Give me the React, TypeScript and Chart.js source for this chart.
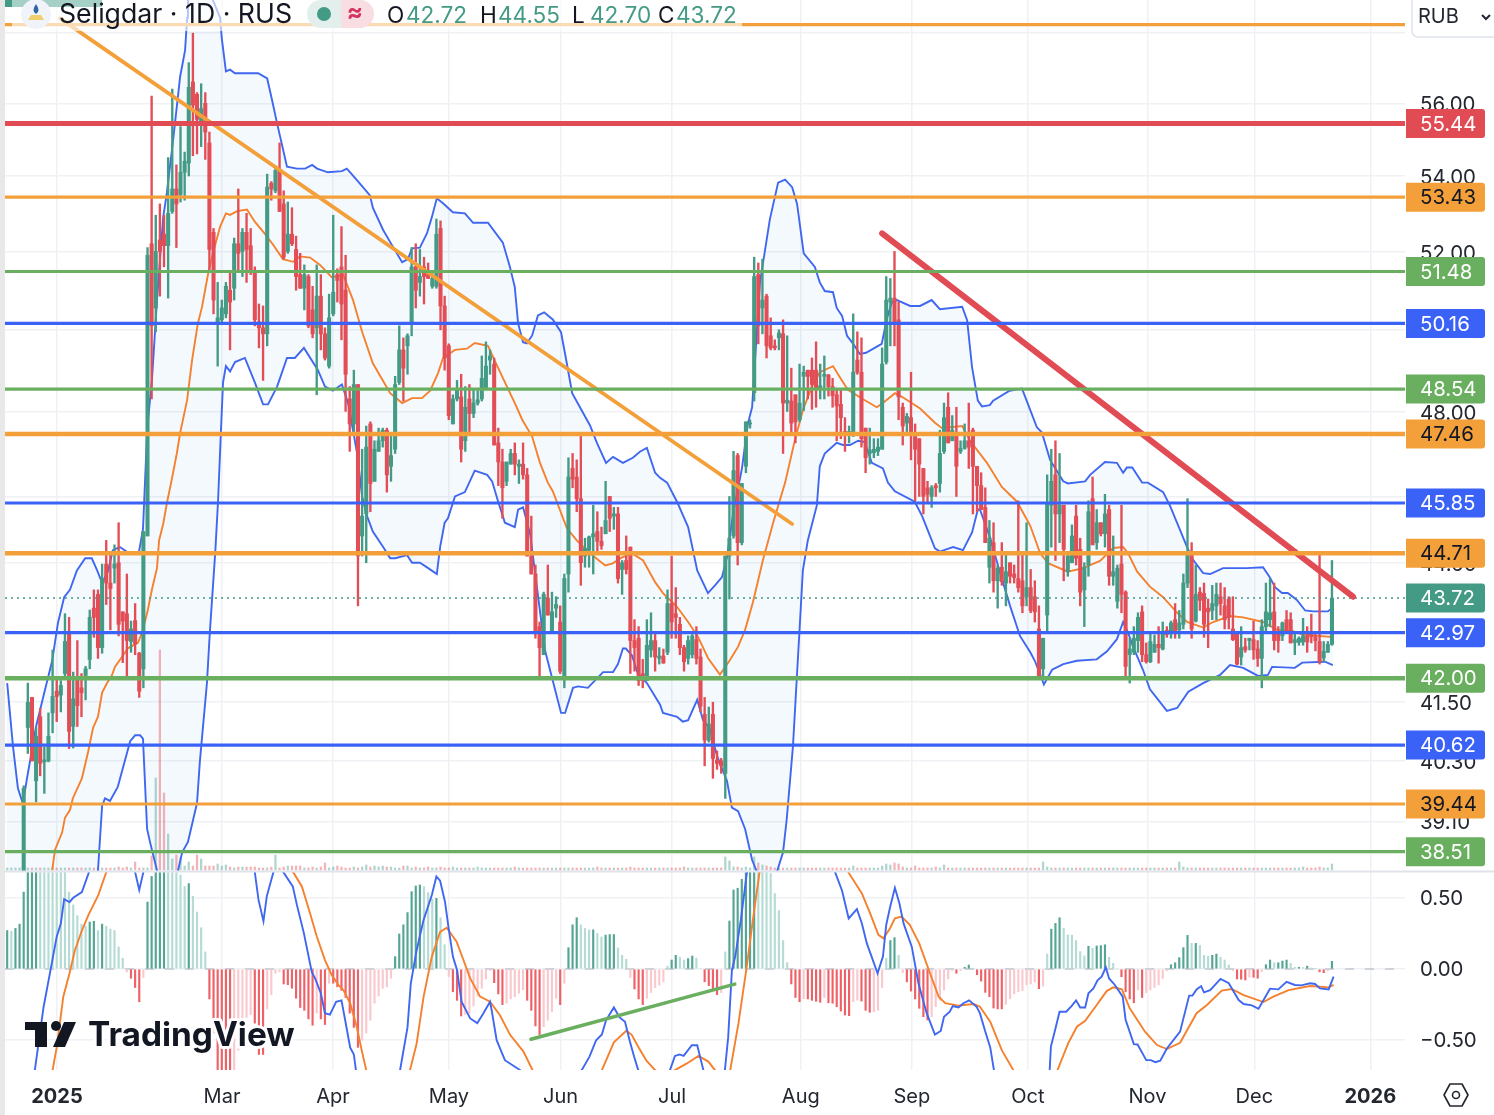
import React, { useEffect, useRef } from 'react';
import { Chart, registerables } from 'chart.js';

Chart.register(...registerables);

const FONT = 'Inter, "Noto Sans", sans-serif';

// daily candles, bar 0 is the first one above the bottom of the pane
const opens = [
  37.5,40.98,41.6,39.9,41.2,40.28,40.3,41.28,41.73,41.65,
  42.1,43.0,41.0,42.0,41.8,42.06,42.4,43.5,43.8,42.65,
  44.47,44.05,44.38,44.5,43.42,43.38,42.78,43.23,42.53,42.2,
  45.1,52.2,50.55,52.3,52.45,52.15,53.05,53.65,53.5,54.1,
  54.35,56.6,56.25,55.5,56.0,54.9,52.5,50.2,50.25,50.4,
  51.0,51.05,52.2,52.0,52.5,52.15,51.45,50.2,50.05,49.9,
  53.8,53.6,54.15,53.25,52.0,52.45,52.05,51.4,51.05,51.35,
  50.5,50.05,50.85,49.9,49.1,50.4,51.4,51.6,51.0,48.3,
  47.7,48.65,45.1,45.6,47.7,46.35,47.05,47.3,47.55,46.7,
  47.1,48.7,49.5,49.6,50.15,51.6,51.2,51.6,51.45,51.1,
  51.1,52.6,50.6,49.6,47.7,48.3,48.35,47.3,48.3,47.95,
  48.2,48.3,48.55,49.25,49.15,47.25,46.8,46.35,46.75,47.0,
  46.7,46.75,46.5,44.65,44.25,43.1,42.5,43.72,43.0,43.5,
  43.2,42.0,44.25,46.65,46.45,45.95,44.65,44.78,45.08,45.2,
  44.98,45.15,46.0,45.55,45.6,44.35,44.55,44.85,42.8,42.85,
  42.1,41.95,42.6,42.8,42.42,42.47,42.55,43.6,43.38,43.15,
  42.65,42.42,42.5,42.82,42.45,41.25,40.72,41.25,40.32,40.3,
  40.05,44.65,45.1,46.95,44.95,46.7,47.7,48.45,51.4,50.55,
  50.85,49.85,49.6,49.8,49.9,48.2,48.25,48.4,47.8,48.85,
  49.0,49.0,49.0,48.55,48.85,48.88,48.6,48.4,48.17,47.52,
  47.45,47.45,49.25,48.95,47.6,47.0,47.02,47.05,47.1,49.2,
  50.7,50.8,50.25,48.1,47.72,47.85,47.5,47.35,46.65,46.2,
  46.0,46.25,46.3,47.05,48.1,47.3,47.5,47.05,47.12,47.3,
  47.55,46.7,46.25,45.75,44.4,44.95,44.1,44.4,44.05,44.5,
  44.25,44.15,44.1,43.75,43.95,43.75,43.05,42.2,43.35,45.8,
  46.5,45.6,45.8,44.3,44.5,45.55,44.8,43.9,44.45,45.95,
  44.95,45.4,45.15,45.7,44.2,43.65,44.47,43.85,42.5,42.55,
  42.8,43.42,42.5,42.35,42.55,42.72,42.62,43.02,42.95,43.25,
  43.03,43.15,44.05,44.7,43.22,43.85,43.82,43.5,43.45,43.55,
  43.75,43.55,43.7,43.05,42.97,42.45,42.67,42.8,42.82,42.62,
  42.42,43.1,43.25,43.42,42.98,42.9,43.25,43.25,42.76,42.76,
  42.77,42.9,42.98,42.88,42.78,42.43,42.55,42.72,
];
const closes = [
  39.75,41.5,40.3,40.8,40.25,40.32,40.8,41.62,41.62,41.85,
  42.78,40.9,41.57,41.43,41.7,42.2,43.3,43.3,42.65,44.15,
  44.05,43.93,44.47,43.15,43.22,42.8,43.05,42.73,41.73,45.2,
  51.9,50.1,52.0,52.0,52.15,53.0,53.65,53.25,54.1,54.4,
  56.45,55.95,55.55,55.85,55.2,52.05,50.75,50.3,50.55,51.1,
  50.7,52.2,51.95,52.5,52.05,51.5,50.25,50.05,49.9,53.7,
  53.65,54.15,53.05,51.85,52.45,52.2,51.35,51.05,51.4,50.1,
  49.9,50.85,49.9,49.3,50.3,50.95,51.25,50.65,48.9,47.7,
  48.65,44.65,45.55,47.15,46.3,47.1,47.3,47.55,46.5,46.95,
  48.65,49.5,49.05,49.85,51.6,51.0,51.35,51.35,51.3,51.3,
  52.45,50.6,49.3,47.9,48.3,48.55,47.1,48.1,47.95,48.2,
  48.28,48.8,49.1,49.35,47.2,46.8,46.2,46.8,47.0,46.75,
  46.75,46.5,44.65,44.25,42.97,42.65,43.8,43.35,43.42,43.58,
  42.15,44.15,46.45,46.4,45.95,44.5,44.82,45.08,45.15,44.98,
  44.88,45.45,45.5,45.6,44.15,44.5,44.35,42.8,42.65,41.95,
  41.95,42.7,42.8,42.45,42.47,42.32,43.6,43.2,43.3,42.65,
  42.35,42.8,42.9,42.42,41.42,40.72,41.05,40.35,40.25,40.2,
  44.65,45.05,46.6,44.95,46.3,47.75,47.72,51.35,50.1,50.75,
  49.6,49.55,49.55,49.92,48.2,48.27,47.72,47.75,48.2,48.95,
  48.85,48.65,48.55,48.62,48.9,48.6,48.38,48.13,47.85,47.45,
  47.52,48.95,48.95,47.35,46.9,47.08,47.1,47.15,49.15,50.75,
  50.8,50.15,48.35,47.65,47.88,47.45,47.1,46.75,46.0,46.05,
  46.2,46.2,47.0,47.85,47.25,47.55,46.7,47.12,47.3,47.15,
  46.7,46.25,45.7,44.95,45.05,44.1,44.38,44.08,44.3,44.2,
  44.17,43.95,43.55,43.95,43.45,43.42,42.02,42.85,45.85,46.35,
  45.6,45.8,44.8,44.65,45.1,44.6,43.85,44.4,45.65,44.9,
  45.4,45.15,45.6,44.2,44.3,44.38,43.8,42.25,42.62,42.85,
  43.3,42.5,42.35,42.78,42.72,42.65,43.0,42.93,43.18,43.0,
  43.18,44.05,44.71,43.05,43.8,43.67,43.15,43.42,43.6,43.8,
  43.6,43.25,43.3,42.82,42.3,42.65,42.6,42.85,42.6,42.42,
  43.1,43.42,43.4,42.8,42.8,43.18,43.02,42.75,42.82,42.85,
  42.9,42.77,42.88,42.8,42.35,42.57,42.72,43.72,
];
const highs = [
  39.8,41.9,41.6,40.98,41.37,40.58,41.28,42.6,42.0,41.95,
  43.38,43.3,42.13,42.8,42.1,42.25,43.46,43.9,43.9,44.47,
  45.0,44.73,44.9,45.4,43.42,44.25,43.22,43.6,42.55,45.2,
  52.1,56.2,52.95,53.25,52.95,54.5,56.4,54.3,55.35,54.65,
  57.15,58.0,56.3,56.55,56.3,55.2,52.6,51.2,50.75,51.2,
  51.45,52.35,53.65,52.6,53.0,52.6,51.6,50.65,50.6,54.05,
  53.85,54.2,54.9,53.6,53.3,53.15,52.4,51.95,51.65,51.4,
  51.1,51.65,51.4,50.05,50.9,52.95,51.55,52.65,51.9,48.6,
  49.0,48.65,47.1,47.65,47.75,47.3,47.6,47.6,47.6,47.45,
  48.85,50.1,49.8,49.9,52.1,52.2,52.05,51.85,51.7,51.5,
  52.85,52.8,50.85,49.65,48.4,48.75,48.9,48.6,48.65,48.55,
  48.5,49.35,49.7,49.5,49.3,47.6,47.1,46.8,47.1,47.25,
  46.85,47.25,46.65,45.55,44.45,43.2,43.85,44.45,43.85,43.75,
  43.55,44.25,46.9,47.0,46.85,47.45,45.05,45.1,45.8,45.65,
  45.3,46.35,46.0,45.75,45.75,44.55,45.1,44.85,43.25,43.1,
  42.4,43.25,43.4,43.0,42.65,42.62,43.9,44.65,43.95,43.3,
  42.7,42.9,42.93,43.1,42.62,41.6,41.4,41.5,40.5,40.35,
  44.65,46.0,47.05,47.0,46.3,47.75,47.8,51.85,51.7,51.8,
  50.9,50.3,49.75,50.0,50.25,49.85,49.05,48.4,49.15,49.1,
  49.0,49.3,49.7,49.15,49.35,48.9,48.8,48.55,48.52,47.85,
  47.65,50.4,49.95,49.8,47.6,47.6,47.35,47.35,49.55,51.35,
  51.3,52.0,50.7,48.2,47.95,48.95,47.7,47.35,46.65,46.35,
  46.25,46.3,47.55,48.2,48.45,47.9,48.1,47.3,47.7,48.2,
  47.6,46.7,46.55,46.2,45.45,45.4,44.45,44.95,44.75,44.5,
  44.45,45.9,44.7,45.4,44.35,44.1,43.55,42.85,46.5,47.1,
  47.3,47.0,45.8,44.72,45.35,45.8,45.05,44.5,45.9,46.45,
  45.7,45.4,46.05,45.8,45.1,44.45,45.8,43.88,42.85,43.1,
  43.4,43.55,42.75,42.97,42.92,43.1,43.2,43.1,43.22,43.6,
  43.45,44.25,45.95,44.95,44.45,43.95,44.05,43.7,44.0,44.05,
  44.05,43.95,43.75,43.75,43.0,43.1,42.85,42.85,43.22,42.8,
  43.25,44.05,44.15,44.05,43.1,43.2,43.45,43.4,42.97,42.88,
  43.28,43.1,43.37,42.98,44.7,42.78,42.78,44.55,
];
const lows = [
  37.0,40.45,40.3,39.48,40.0,39.65,40.28,40.87,41.1,41.3,
  42.0,40.55,40.56,41.0,41.2,41.55,42.2,42.87,42.42,42.53,
  43.58,43.03,44.05,42.9,42.33,42.03,42.55,42.5,41.6,41.8,
  45.1,48.3,49.95,50.85,51.6,50.8,53.0,52.1,53.3,53.35,
  54.0,54.55,54.6,54.8,54.45,51.5,50.4,49.1,50.2,50.3,
  49.5,50.75,51.45,51.35,51.2,51.4,50.1,49.55,48.75,49.6,
  53.35,53.55,53.05,51.8,51.95,52.15,51.0,51.05,50.5,50.05,
  49.8,48.4,49.5,49.25,49.05,50.35,50.7,49.75,48.0,47.05,
  47.5,43.55,44.65,44.5,45.65,46.35,47.05,47.15,46.1,46.35,
  47.0,48.65,48.25,48.9,49.85,50.55,50.85,50.65,51.3,51.05,
  51.05,50.0,49.0,47.8,47.7,48.25,46.8,47.05,47.5,47.85,
  48.15,48.25,48.55,48.9,47.2,46.25,45.5,46.25,46.75,46.5,
  46.3,46.4,44.65,44.25,42.85,42.0,42.5,43.35,42.98,43.3,
  42.1,41.8,43.85,46.2,45.65,44.0,44.4,44.4,44.25,44.75,
  44.8,45.15,45.2,45.25,44.05,43.8,44.25,42.1,42.15,41.85,
  41.8,41.95,42.45,42.15,42.3,42.32,42.5,42.85,42.85,42.5,
  42.15,42.3,42.43,42.3,41.3,40.2,40.68,39.95,40.13,40.05,
  39.55,43.7,45.05,44.45,44.9,46.55,47.6,48.25,49.65,49.9,
  49.3,49.5,49.5,49.5,47.0,48.0,47.5,47.25,47.75,48.02,
  48.3,48.05,48.1,48.3,48.3,48.37,48.1,47.3,47.35,47.05,
  47.25,47.4,48.9,47.15,46.55,46.75,46.9,46.95,47.1,49.15,
  49.6,49.6,47.8,47.2,47.5,46.85,45.9,46.0,45.6,45.85,
  45.75,46.0,46.1,47.0,47.25,47.3,46.0,47.0,47.1,46.65,
  45.6,45.65,45.7,44.95,44.05,43.85,43.5,44.0,43.55,44.05,
  44.05,43.85,43.4,43.55,43.4,43.2,42.0,42.02,43.0,44.85,
  44.55,44.95,44.1,44.2,44.5,44.45,43.55,43.1,44.2,44.9,
  44.8,45.1,44.85,44.0,44.0,43.5,43.4,42.05,41.9,42.5,
  42.55,42.35,42.32,42.33,42.55,42.32,42.6,42.87,42.85,42.85,
  42.85,43.05,43.95,42.85,43.2,43.45,42.87,42.65,43.25,43.25,
  43.35,43.05,43.05,42.8,42.28,42.28,42.55,42.6,42.4,42.25,
  41.8,43.0,43.1,42.6,42.55,42.8,42.97,42.75,42.5,42.7,
  42.7,42.55,42.75,42.58,42.3,42.35,42.55,42.7,
];

// volume and macd histogram also cover the four bars left of bar 0
const FIRST_BAR = -4;
const volumes = [
  2,2,2,2,2,2,2,2,2,2,
  2,3,2,2,2,2,2,2,2,2,
  2,2,2,2,2,2,2,3,2,3,
  2,8,2,2,2,14,92,220,77,36,
  11,15,12,4,8,4,15,11,4,4,
  4,6,4,5,3,2,3,3,3,3,
  3,2,2,2,3,15,2,3,4,4,
  4,4,2,2,3,2,3,7,2,3,
  4,3,2,2,3,2,3,5,3,4,
  3,4,3,3,2,2,4,4,2,3,
  2,2,3,2,2,3,2,2,3,2,
  2,2,2,2,3,2,2,2,2,2,
  2,2,2,3,2,2,2,2,2,2,
  2,2,2,2,2,2,2,2,2,2,
  2,2,2,3,2,2,2,2,2,2,
  2,3,2,2,2,2,2,2,2,2,
  2,2,2,2,3,2,2,2,2,2,
  2,2,2,2,13,9,3,3,2,3,
  2,13,7,5,4,3,2,2,2,2,
  2,2,2,2,2,2,2,2,2,2,
  2,2,2,2,2,4,2,2,2,2,
  2,2,4,6,5,7,6,3,2,2,
  4,2,2,2,2,3,2,5,2,2,
  2,2,2,2,2,2,2,2,2,2,
  2,2,2,2,2,2,2,2,2,2,
  2,8,3,2,2,2,2,2,2,2,
  2,2,2,2,2,2,2,2,2,2,
  2,2,2,2,2,2,2,2,2,2,
  2,2,2,2,8,3,2,2,2,2,
  2,2,2,2,2,2,2,2,2,2,
  2,2,2,2,2,2,2,2,2,2,
  2,2,2,2,3,2,2,2,3,2,
  2,6,
];
const macdHist = [
  .27,.265,.285,.315,
  .54,.75,.8,.85,.84,.83,.8,.78,.75,.73,
  .7,.54,.45,.375,.315,.3,.33,.335,.27,.315,
  .3,.28,.27,.155,.075,-.02,-.065,-.13,-.23,-.06,
  .47,.65,.75,.8,.8,.78,.75,.69,.66,.58,
  .6,.51,.4,.29,.12,-.21,-.45,-.72,-.75,-.78,
  -.8,-.78,-.57,-.43,-.34,-.32,-.38,-.6,-.6,-.28,
  -.18,-.03,-.02,-.105,-.11,-.135,-.205,-.27,-.29,-.35,
  -.395,-.31,-.35,-.39,-.1,-.1,-.125,-.15,-.2,-.31,
  -.41,-.55,-.5,-.45,-.36,-.24,-.19,-.135,-.125,-.065,
  .087,.246,.31,.396,.543,.583,.59,.578,.536,.49,
  .496,.36,.17,-.054,-.16,-.22,-.33,-.32,-.31,-.26,
  -.19,-.135,-.07,-.01,-.096,-.175,-.25,-.24,-.21,-.195,
  -.17,-.145,-.22,-.29,-.4,-.46,-.405,-.36,-.3,-.205,
  -.25,-.1,.15,.31,.36,.31,.285,.275,.275,.25,
  .225,.238,.242,.242,.148,.096,.068,-.06,-.14,-.21,
  -.25,-.205,-.165,-.13,-.113,-.09,.02,.063,.096,.082,
  .063,.073,.091,.077,0,-.09,-.117,-.147,-.18,-.166,
  .12,.337,.555,.567,.63,.72,.75,.78,.75,.72,
  .68,.67,.53,.41,.2,.045,-.105,-.2,-.23,-.21,
  -.21,-.22,-.227,-.234,-.2,-.237,-.24,-.265,-.295,-.323,
  -.328,-.23,-.218,-.225,-.29,-.304,-.3,-.29,-.13,.075,
  .2,.22,.096,-.026,-.09,-.155,-.21,-.276,-.335,-.358,
  -.335,-.265,-.22,-.147,-.07,-.01,-.03,-.012,.012,.028,
  .005,-.04,-.085,-.164,-.194,-.274,-.28,-.28,-.248,-.21,
  -.175,-.16,-.152,-.112,-.105,-.09,-.138,-.12,.105,.28,
  .32,.36,.285,.24,.237,.2,.122,.092,.16,.145,
  .162,.164,.17,.082,.04,0,-.054,-.16,-.21,-.237,
  -.147,-.2,-.166,-.147,-.129,-.112,-.066,-.012,.03,.044,
  .08,.15,.236,.18,.18,.166,.096,.09,.096,.105,
  .082,.063,.028,-.012,-.07,-.072,-.077,-.058,-.058,-.065,
  -.019,.03,.063,.044,.044,.056,.063,.04,.012,.012,
  .01,.02,.007,.002,-.02,-.026,-.012,.054,
];

// bollinger bands, [bar, price]
const bbUpper = [
  [-4,41.9],[-2.6,40.6],[-1.4,39.75],[-.2,39.45],[.8,39.95],[3,41],[4.7,41.6],[6.9,42.37],[8.3,43.18],[9.8,43.74],
  [11.2,43.9],[12.9,44.33],[14.9,44.6],[16.5,44.6],[17.8,44.33],[19,44.05],[20.4,44.3],[21.6,44.78],[23.3,44.85],[25.3,44.73],
  [27.9,44.73],[28.9,45.25],[29.6,46.8],[29.9,47.55],[31.1,48.8],[32.3,50.75],[33.8,52.9],[34.7,53.55],[36.2,54.98],[37.9,56.75],
  [39.1,57.5],[39.6,58.45],[39.8,58.97],[42,60.1],[47.6,58.45],[48,57.85],[49,56.9],[50,56.95],[51.2,56.85],[56.8,56.85],
  [59,56.7],[60.2,56.08],[61.4,55.44],[63.8,54.25],[66.2,54.2],[68.2,54.2],[69.9,54.3],[71.1,54.2],[73.7,54.1],[77.1,54.13],
  [78.3,54.2],[79.1,54.1],[80.8,53.88],[83.9,53.48],[84.6,53.15],[87.1,52.56],[89.2,52.17],[91.7,51.72],[93.1,51.8],[94.1,52.08],
  [96,52.1],[97.7,52.47],[98.9,52.9],[100.1,53.4],[101.6,53.27],[104,53.03],[106.9,53],[108.9,52.75],[112.5,52.75],[116.1,52.23],
  [117.8,51.6],[119,51.08],[119.8,50.16],[121,49.69],[121.9,49.66],[123.2,49.86],[124.6,50.36],[126.1,50.44],[128.2,50.26],[130.2,49.94],
  [131.6,49.17],[132.9,48.44],[137.2,47.67],[138.9,47.25],[141.1,46.78],[142.8,46.92],[145.2,46.78],[147.6,46.9],[149.3,47.04],[151,47.13],
  [153,46.55],[154.2,46.43],[155.9,46.32],[158.3,45.88],[161,45.3],[163.2,44.33],[165.8,43.83],[167.5,44],[169.2,44.18],[170.4,44.62],
  [171.9,45.62],[174,46.63],[175.5,47.72],[176.5,48.1],[178.4,51.2],[180.8,52.84],[182.8,53.82],[184.5,53.9],[186.2,53.7],[187.4,53.25],
  [189,51.95],[191.7,51.6],[192.9,51.2],[194.1,50.98],[196.1,50.95],[197,50.55],[198.3,50.35],[199.5,49.85],[201,49.65],[202.6,49.4],
  [204.1,49.43],[207.9,49.65],[209.2,50.3],[210.4,50.7],[211.6,50.75],[214.8,50.6],[217.2,50.6],[220,50.75],[222,50.52],[227.4,50.58],
  [228.6,50.24],[229.8,49.07],[231.2,48.26],[232.2,48.12],[234.1,48.15],[234.9,48.26],[238.9,48.5],[241.9,48.55],[245.5,47.62],[246.7,47.5],
  [248.7,46.85],[251.9,46.35],[253,46.3],[257.2,46.35],[258.4,46.5],[262,46.8],[264.9,46.78],[266.4,46.55],[267.3,46.67],[268.6,46.67],
  [271,46.32],[272.4,46.32],[276.1,46.1],[277.8,45.78],[281.9,44.85],[283.3,44.57],[285.8,44.27],[287.5,44.25],[290.6,44.38],[296.4,44.38],
  [300.3,44.4],[302,44.17],[303.2,43.96],[304.9,43.83],[306.3,43.83],[308.5,43.68],[310.5,43.45],[312.4,43.43],[316,43.43],[317,43.5],
];
const bbLower = [
  [-4,35.8],[6.4,34.9],[15.6,36.65],[18,38.15],[19,39.4],[19.7,39.55],[20.9,39.5],[22.8,39.78],[24.5,40.3],[25.8,40.7],
  [27,40.82],[28.2,40.82],[28.9,40.75],[29.9,38.95],[30.6,38.7],[32.3,38.15],[34.7,37.4],[37.4,38.15],[38.4,38.5],[39.8,38.7],
  [42,39.46],[42.7,40.3],[44.4,41.9],[45.1,42.97],[46.4,44.71],[47.1,45.9],[47.8,47.55],[48.3,48.7],[49,49.1],[50,48.97],
  [51.2,49.2],[53.6,49.3],[56,48.7],[58,48.17],[59.2,48.17],[61.4,48.6],[63.8,49.3],[65.7,49.3],[67.9,49.55],[71.3,49],
  [73,48.6],[74.9,48.5],[77.1,48.65],[78.6,48.2],[80.8,47],[82,46],[83.2,45.55],[84.6,45.2],[87.1,44.85],[88.8,44.6],
  [90,44.6],[92.9,44.67],[94.1,44.5],[96,44.5],[98,44.38],[100.1,44.25],[100.9,44.85],[102,45.4],[102.8,45.5],[104.5,46],
  [106.9,46.1],[109.3,46.6],[112.3,46.5],[113.5,46.35],[114.9,45.9],[116.6,45.4],[119,45.3],[119.8,45.7],[121,45.75],[122.7,45.15],
  [126.3,42.6],[128.2,41.95],[130.2,41.28],[131.2,41.28],[133.1,41.8],[134.3,41.83],[136.7,41.8],[140.4,42.13],[142.8,42.13],[144,42.3],
  [145.2,42.63],[145.9,42.63],[147.4,42.48],[148.8,42.1],[151,41.9],[154.2,41.45],[154.9,41.28],[158.3,41.2],[159.7,41.1],[161,41.13],
  [163.2,41.55],[164.6,41.13],[166.3,40.95],[168,40.4],[170.4,39.9],[171.6,39.37],[173.1,39.3],[174.8,38.95],[176.5,38.35],[180.4,37.6],
  [184,38.5],[184.9,39.15],[186.4,40.6],[188.1,43.2],[188.8,44.33],[190,45],[192.2,45.8],[192.9,46.7],[194.1,47],[197,47.25],
  [198.5,47.2],[200.2,47.2],[202.2,47.3],[203.8,47.27],[205.5,46.78],[208.2,46.65],[209.4,46.32],[211.1,46.12],[215.9,45.88],[217.7,45.55],
  [220.8,44.82],[222,44.75],[225.2,44.85],[227.6,44.78],[229.8,45.18],[231.2,45.7],[231.7,45.7],[234.1,45.08],[236.6,44.27],[239,43.55],
  [241.4,42.9],[243.9,42.55],[245,42.37],[246.3,42.08],[247.2,41.87],[249.2,42.18],[251.9,42.3],[255.2,42.37],[260,42.4],[262.5,42.57],
  [264.9,42.83],[266.4,43.2],[267.6,42.97],[268.8,42.67],[271.2,42.18],[272.9,41.77],[277,41.32],[279.5,41.38],[282.2,41.72],[285.8,41.9],
  [289.9,42.07],[292.3,42.28],[295.5,42.22],[299.1,42.05],[301.5,42.07],[302.5,42.24],[308,42.22],[309.8,42.33],[315.3,42.35],[317.2,42.28],
];
const bbBasis = [
  [6.9,38.15],[7.6,38.55],[9.3,38.88],[10,39.17],[11.2,39.32],[11.9,39.55],[14.1,39.95],[15.6,40.48],[16.8,40.97],[18,41.2],
  [19,41.7],[20.2,41.9],[21.4,42.07],[22.1,42.24],[23.8,42.45],[25.3,42.64],[27.7,42.75],[28.9,43.03],[30.1,43.47],[31.1,43.92],
  [32.3,44.38],[32.8,45],[33.8,45.37],[34.7,45.85],[35.9,46.4],[37.1,47],[37.9,47.48],[39.6,48.27],[40.8,49.25],[42.2,50.16],
  [43.2,50.57],[44.7,51.43],[45.9,51.97],[47.6,52.65],[49,53],[50,52.96],[51.7,53.06],[54.1,53.1],[56,52.78],[58.5,52.45],
  [60.4,52.18],[62.8,51.8],[65.3,51.73],[66.9,51.87],[69.4,51.84],[71.8,51.65],[74.7,51.33],[77.4,51.4],[79.8,50.75],[82,49.95],
  [84.6,49.17],[88.8,48.44],[91.7,48.2],[94.1,48.32],[96.5,48.32],[98.5,48.5],[100.4,48.93],[101.6,49.3],[104.5,49.5],[107.4,49.53],
  [109.3,49.67],[112.5,49.6],[114.9,49.07],[117.1,48.6],[119,48.2],[120.8,47.8],[123.2,47.4],[125.1,46.78],[127,46.32],[128.2,46.12],
  [131.6,45.28],[134,45],[137.2,44.71],[140.9,44.44],[142.6,44.48],[145,44.62],[147.4,44.71],[150.1,44.55],[153,44.07],[154.9,43.83],
  [158.3,43.53],[161,43.2],[163.4,42.88],[165.8,42.43],[168.7,42.08],[171.1,42.38],[173.1,42.67],[174.8,43.03],[176.7,43.63],[179.1,44.55],
  [181.6,45.4],[184.5,46.32],[186.9,47.33],[188.8,48.03],[191,48.6],[192.9,48.95],[196.1,49.1],[197.8,48.82],[199.7,48.52],[203.8,48.27],
  [206.7,48.1],[208.2,48.2],[211.1,48.44],[213,48.34],[217.2,48.07],[220.8,47.73],[222.5,47.6],[227.4,47.65],[229.3,47.3],[233.4,46.78],
  [237,46.22],[240.7,45.88],[243.9,45.33],[246.3,44.71],[248.2,44.49],[253,44.3],[256.7,44.38],[260.8,44.54],[264,44.83],[266.4,44.85],
  [267.6,44.71],[269.8,44.3],[272.9,43.97],[276.1,43.74],[279.5,43.4],[281.9,43.2],[285.8,43.08],[288.2,43.2],[292.3,43.33],[295.5,43.3],
  [300.3,43.2],[303.7,43.03],[307.6,43],[309.8,42.93],[316.6,42.88],[317.3,42.9],
];

// macd line and signal, [bar, value]; points outside the pane get clipped
const macdLine = [
  [1.9,-.85],[2.7,-.71],[4.8,-.27],[6.8,.04],[8,.227],[9,.32],[9.8,.49],[11.1,.47],[12,.5],[14.1,.54],
  [15.7,.67],[16.1,.72],[21.7,1.5],[27,.68],[28,.555],[29,.68],[41,1.7],[56,.68],[56.9,.485],[58.1,.335],
  [58.9,.51],[60.5,.68],[61.7,.8],[62.9,.68],[65.2,.58],[66.2,.45],[67.9,.25],[69.8,-.02],[70.6,-.066],[72,-.17],
  [73,-.31],[74.2,-.32],[75.7,-.23],[77,-.22],[77.9,-.36],[79.1,-.55],[80,-.6],[80.5,-.71],[85.5,-1.3],[91.2,-.71],
  [93,-.41],[93.8,-.1],[95.2,.13],[96.9,.345],[98.9,.52],[100,.65],[100.9,.62],[102.1,.47],[102.9,.3],[104,.087],
  [105,-.007],[106.1,-.23],[108.2,-.347],[109.9,-.38],[111.4,-.31],[113,-.23],[113.4,-.29],[114.6,-.5],[116.6,-.64],[120.3,-.71],
  [127.5,-1],[135.2,-.71],[137.1,-.615],[138.7,-.5],[140.1,-.46],[141.1,-.36],[143,-.27],[144.4,-.34],[145.7,-.37],[146.9,-.51],
  [147.9,-.615],[148.9,-.71],[152.6,-.85],[156.6,-.71],[157.8,-.61],[158.9,-.6],[159.9,-.61],[161.9,-.535],[163.2,-.535],[164.7,-.71],
  [167.5,-.8],[169.9,-.71],[170.7,-.48],[171.6,-.01],[172.4,.087],[173.8,.35],[175.2,.67],[185.7,1.5],[196.6,.68],[198.3,.55],
  [199.9,.355],[201.9,.42],[203.1,.32],[204.3,.18],[206.9,-.03],[208.2,.087],[209,.31],[209.9,.43],[211.1,.57],[212.2,.46],
  [213.2,.32],[215.2,.155],[216.8,-.1],[218.8,-.31],[220.8,-.46],[222.2,-.435],[223,-.335],[224.4,-.3],[225.1,-.26],[226.5,-.27],
  [227.7,-.24],[229.1,-.22],[230.9,-.265],[231.7,-.31],[232.9,-.43],[234.2,-.55],[235.1,-.71],[241.4,-1],[248.6,-.71],[248.9,-.545],
  [249.9,-.43],[251,-.3],[252.6,-.3],[253.9,-.26],[255,-.22],[256,-.27],[257.2,-.27],[258,-.17],[259.2,-.136],[260.2,-.08],
  [261.2,-.054],[262.2,.012],[263,-.066],[264.4,-.112],[266.3,-.194],[267,-.356],[269,-.527],[269.9,-.53],[272,-.64],[273.1,-.64],
  [274.2,-.654],[275.4,-.644],[277,-.558],[280.2,-.44],[282.4,-.187],[283.2,-.187],[284.2,-.143],[285.3,-.12],[286,-.164],[287.5,-.148],
  [290,-.07],[292,-.1],[294.4,-.218],[295.6,-.246],[297.6,-.255],[299.2,-.279],[302,-.138],[304,-.143],[306,-.09],[308,-.112],
  [309.6,-.115],[311.7,-.1],[312.9,-.105],[314.1,-.136],[316.2,-.143],[317.4,-.054],
];
const macdSignal = [
  [6.4,-.85],[7,-.71],[8,-.55],[9.6,-.194],[11.1,-.03],[12.4,.13],[14.1,.27],[15.7,.38],[18.1,.52],[20,.68],
  [42.7,1.4],[65.3,.68],[67.4,.58],[69.4,.39],[71,.23],[73,.063],[74.6,-.04],[76.3,-.113],[77.5,-.15],[79.1,-.24],
  [80.7,-.405],[81.9,-.57],[83,-.71],[88,-1.03],[93.6,-.71],[95.2,-.525],[96.9,-.194],[98.9,.087],[100.9,.26],[102.5,.29],
  [104.9,.192],[106.1,.098],[108.2,-.066],[110.6,-.194],[113,-.23],[115.4,-.325],[117.9,-.464],[121.1,-.58],[123.3,-.71],[131.6,-.94],
  [140.1,-.71],[143,-.515],[146,-.433],[147.3,-.46],[148.9,-.546],[150.9,-.644],[153,-.71],[155.4,-.754],[157.8,-.71],[160.7,-.663],
  [163.5,-.61],[165.9,-.65],[167.5,-.71],[169.5,-.754],[171.2,-.71],[173.2,-.38],[175.2,.017],[176.8,.37],[178.3,.68],[188.9,1.5],
  [199.8,.68],[203.1,.53],[205.1,.39],[207.1,.24],[208.3,.215],[209.9,.285],[211.1,.356],[212.7,.368],[214.7,.31],[217,.18],
  [219.6,-.03],[221.7,-.194],[223.3,-.24],[226.5,-.257],[230.2,-.246],[231.7,-.265],[234.2,-.37],[237,-.57],[239.8,-.71],[245,-.94],
  [250.5,-.71],[253.1,-.52],[255.2,-.405],[257.2,-.363],[260,-.253],[262.4,-.155],[264,-.129],[266.1,-.143],[268,-.276],[271.7,-.44],
  [274.6,-.534],[277,-.562],[280.2,-.518],[284.2,-.31],[286.7,-.253],[290.3,-.152],[292.7,-.14],[295.6,-.183],[300.4,-.232],[302.8,-.194],
  [306.5,-.148],[311.7,-.119],[316.2,-.129],[317.4,-.112],
];

// horizontal levels drawn on the chart
const levelPrices = [58.25, 55.44, 53.43, 51.48, 50.16, 48.54, 47.46, 45.85, 44.71, 42.97, 42.0, 40.62, 39.44, 38.51];
const levelKinds = ['orange', 'red', 'orange', 'green', 'blue', 'green', 'orange', 'blue', 'orange', 'blue', 'green', 'blue', 'orange', 'green'];
const levelWidths = [3.2, 5, 3.2, 3.2, 3.2, 3.2, 4.5, 3.2, 4.5, 3.2, 4.5, 3.2, 3.2, 3.2];
const lastClose = 43.72;

const orangeTrend = [[8.8, 58.43], [186.2, 45.37]];
const redTrend = [[208, 52.47], [322.1, 43.75]];
const greenTrend = [[122.9, -0.493], [172.3, -0.106]];

const priceTicks = [58, 56, 54, 52, 50, 48, 46, 44.5, 43, 41.5, 40.3, 39.1];
const macdTicks = [0.5, 0, -0.5];
const monthBars = [8.07, 48.05, 74.95, 103.05, 130.1, 157.1, 188.3, 215.2, 243.3, 272.3, 298.2, 326.3];
const monthLabels = ['2025', 'Mar', 'Apr', 'May', 'Jun', 'Jul', 'Aug', 'Sep', 'Oct', 'Nov', 'Dec', '2026'];

const COLORS: Record<string, string> = {
  orange: '#f3a03a',
  red: '#e14b54',
  green: '#6aae5f',
  blue: '#3b62f6',
};
const UP = '#439a85';
const DOWN = '#e24d56';
const INK = '#23272f';

const toPoints = (pairs: number[][]) => pairs.map(([x, y]) => ({ x, y }));

const flatLine = (y: number, x0: number, x1: number) => [{ x: x0, y }, { x: x1, y }];

const X_MIN = -4.53;
const X_MAX = 334.7;

// labels may overhang the chart area, without this the layout shrinks it
const noPadding = (scale: any) => {
  scale.paddingTop = 0;
  scale.paddingBottom = 0;
  scale.paddingLeft = 0;
  scale.paddingRight = 0;
};

function tag(ctx: CanvasRenderingContext2D, y: number, text: string, fill: string, ink: string) {
  ctx.fillStyle = fill;
  ctx.beginPath();
  ctx.roundRect(1406, y - 14.5, 79, 29, [0, 3, 3, 0]);
  ctx.fill();
  ctx.fillStyle = ink;
  ctx.font = `20.4px ${FONT}`;
  ctx.textAlign = 'left';
  ctx.textBaseline = 'middle';
  ctx.fillText(text, 1420, y + 1);
}

const overlayPlugin = {
  id: 'overlay',
  beforeDraw(chart: any) {
    const { ctx } = chart;
    ctx.save();
    ctx.fillStyle = '#ffffff';
    ctx.fillRect(0, 0, chart.width, chart.height);
    ctx.fillStyle = '#e8e8e8';
    ctx.fillRect(0, 0, 5, chart.height);
    ctx.restore();
  },
  beforeDatasetsDraw(chart: any) {
    // pale fill between the bands, kept inside the price pane
    const { ctx, chartArea } = chart;
    const { x, price } = chart.scales;
    ctx.save();
    ctx.beginPath();
    ctx.rect(chartArea.left, price.top, chartArea.right - chartArea.left, price.bottom - price.top);
    ctx.clip();
    ctx.beginPath();
    bbUpper.forEach(([b, p], i) => {
      if (i === 0) ctx.moveTo(x.getPixelForValue(b), price.getPixelForValue(p));
      else ctx.lineTo(x.getPixelForValue(b), price.getPixelForValue(p));
    });
    [...bbLower].reverse().forEach(([b, p]) => ctx.lineTo(x.getPixelForValue(b), price.getPixelForValue(p)));
    ctx.closePath();
    ctx.fillStyle = 'rgba(66,150,243,0.06)';
    ctx.fill();
    ctx.restore();
  },
  afterDraw(chart: any) {
    const { ctx } = chart;
    const { price } = chart.scales;
    ctx.save();

    // pane divider
    ctx.fillStyle = '#e0e3eb';
    ctx.fillRect(5, price.bottom - 0.5, chart.width - 5, 2);

    // price tags
    levelPrices.forEach((p, i) => {
      if (p > 58) return;
      const kind = levelKinds[i];
      tag(ctx, price.getPixelForValue(p), p.toFixed(2), COLORS[kind], kind === 'orange' ? '#131722' : '#ffffff');
    });
    tag(ctx, price.getPixelForValue(lastClose), lastClose.toFixed(2), UP, '#ffffff');

    // currency box
    ctx.fillStyle = '#ffffff';
    ctx.strokeStyle = '#e0e3eb';
    ctx.lineWidth = 1.5;
    ctx.beginPath();
    ctx.roundRect(1412, -8, 90, 45, 6);
    ctx.fill();
    ctx.stroke();
    ctx.fillStyle = INK;
    ctx.font = `20px ${FONT}`;
    ctx.textAlign = 'left';
    ctx.textBaseline = 'middle';
    ctx.fillText('RUB', 1418, 17);
    ctx.strokeStyle = INK;
    ctx.lineWidth = 2;
    ctx.beginPath();
    ctx.moveTo(1482, 15);
    ctx.lineTo(1486, 19);
    ctx.lineTo(1490, 15);
    ctx.stroke();

    // header wash
    ctx.fillStyle = 'rgba(255,255,255,0.62)';
    ctx.fillRect(12, 0, 730, 31);
    ctx.fillStyle = UP;
    ctx.fillRect(5, 0, 7, 7);
    ctx.fillStyle = '#a5d0c5';
    ctx.fillRect(12, 0, 90, 7);

    // symbol logo
    ctx.fillStyle = '#f0f3fa';
    ctx.beginPath();
    ctx.arc(36, 14, 15, 0, Math.PI * 2);
    ctx.fill();
    ctx.fillStyle = '#2c66a8';
    ctx.beginPath();
    ctx.moveTo(36, 4);
    ctx.quadraticCurveTo(41, 11, 36, 14);
    ctx.quadraticCurveTo(31, 11, 36, 4);
    ctx.fill();
    ctx.fillStyle = '#efcf6e';
    ctx.beginPath();
    ctx.moveTo(31, 15);
    ctx.lineTo(41, 15);
    ctx.lineTo(44, 20);
    ctx.lineTo(28, 20);
    ctx.closePath();
    ctx.fill();

    ctx.fillStyle = '#131722';
    ctx.font = `26.7px ${FONT}`;
    ctx.textAlign = 'left';
    ctx.fillText('Seligdar · 1D · RUS', 59, 15);

    // status pills
    ctx.fillStyle = '#e3efec';
    ctx.beginPath();
    ctx.roundRect(307, 0, 34, 28, [14, 0, 0, 14]);
    ctx.fill();
    ctx.fillStyle = '#f8dde3';
    ctx.beginPath();
    ctx.roundRect(341, 0, 33, 28, [0, 14, 14, 0]);
    ctx.fill();
    ctx.fillStyle = UP;
    ctx.beginPath();
    ctx.arc(324, 14, 7, 0, Math.PI * 2);
    ctx.fill();
    ctx.fillStyle = '#d8305e';
    ctx.font = `bold 24px ${FONT}`;
    ctx.textAlign = 'center';
    ctx.fillText('≈', 355, 13);
    ctx.textAlign = 'left';

    // ohlc readout
    ctx.font = `22.6px ${FONT}`;
    const ohlc: [string, number, number, number][] = [
      ['O', 387, 406, opens[opens.length - 1]],
      ['H', 480, 498, highs[highs.length - 1]],
      ['L', 572, 590, lows[lows.length - 1]],
      ['C', 658, 676, closes[closes.length - 1]],
    ];
    ohlc.forEach(([k, kx, vx, v]) => {
      ctx.fillStyle = '#131722';
      ctx.fillText(k, kx, 16);
      ctx.fillStyle = UP;
      ctx.fillText(v.toFixed(2), vx, 16);
    });

    // watermark
    ctx.fillStyle = '#131722';
    ctx.fillRect(25, 1022, 22, 8);
    ctx.fillRect(35, 1022, 12, 25);
    ctx.beginPath();
    ctx.arc(56, 1026, 5, 0, Math.PI * 2);
    ctx.fill();
    ctx.beginPath();
    ctx.moveTo(64, 1022);
    ctx.lineTo(76, 1022);
    ctx.lineTo(65, 1047);
    ctx.lineTo(53, 1047);
    ctx.closePath();
    ctx.fill();
    ctx.font = `700 33.4px ${FONT}`;
    ctx.textBaseline = 'middle';
    ctx.strokeStyle = '#ffffff';
    ctx.lineWidth = 6;
    ctx.lineJoin = 'round';
    ctx.strokeText('TradingView', 88, 1036);
    ctx.fillText('TradingView', 88, 1036);

    // settings hexagon
    ctx.strokeStyle = INK;
    ctx.lineWidth = 1.6;
    ctx.beginPath();
    ctx.moveTo(1444, 1095);
    ctx.lineTo(1450, 1084);
    ctx.lineTo(1462, 1084);
    ctx.lineTo(1468, 1095);
    ctx.lineTo(1462, 1106);
    ctx.lineTo(1450, 1106);
    ctx.closePath();
    ctx.stroke();
    ctx.beginPath();
    ctx.arc(1456, 1095, 3.5, 0, Math.PI * 2);
    ctx.stroke();

    ctx.restore();
  },
};

export default function App() {
  const canvasRef = useRef<HTMLCanvasElement>(null);

  useEffect(() => {
    document.body.style.margin = '0';
    if (!canvasRef.current) return;

    const barColor = (i: number) => (closes[i] >= opens[i] ? UP : DOWN);
    const volumeColor = (i: number) => (i < 0 || closes[i] >= opens[i] ? 'rgba(67,154,133,0.42)' : 'rgba(226,77,86,0.42)');
    const histColor = (v: number, prev: number) => {
      const grows = Math.abs(v) >= Math.abs(prev);
      if (v >= 0) return grows ? '#54a594' : '#b5dcd4';
      return grows ? '#ee6167' : '#f9c9ce';
    };

    const line = (label: string, data: any[], yAxisID: string, color: string, width: number, order: number, extra = {}) => ({
      type: 'line' as const,
      label,
      data,
      yAxisID,
      borderColor: color,
      backgroundColor: color,
      borderWidth: width,
      pointRadius: 0,
      tension: 0,
      fill: false,
      order,
      ...extra,
    });

    const chart = new Chart(canvasRef.current, {
      type: 'bar',
      data: {
        datasets: [
          ...levelPrices.map((p, i) =>
            line(`level ${p}`, flatLine(p, X_MIN, X_MAX), 'price', COLORS[levelKinds[i]], levelWidths[i], 1),
          ),
          line('trend a', toPoints(orangeTrend), 'price', COLORS.orange, 3.8, 1, { borderCapStyle: 'round' }),
          line('trend b', toPoints(redTrend), 'price', COLORS.red, 6, 1, { borderCapStyle: 'round' }),
          line('trend c', toPoints(greenTrend), 'macd', COLORS.green, 3.5, 1, { borderCapStyle: 'round' }),
          line('close', flatLine(lastClose, X_MIN, X_MAX), 'price', UP, 1.5, 2, { borderDash: [2, 4] }),
          {
            type: 'bar' as const,
            label: 'body',
            data: opens.map((o, i) => ({ x: i, y: [o, closes[i]] })),
            yAxisID: 'price',
            backgroundColor: opens.map((_, i) => barColor(i)),
            barThickness: 3.4,
            minBarLength: 1,
            grouped: false,
            order: 3,
          },
          {
            type: 'bar' as const,
            label: 'wick',
            data: highs.map((h, i) => ({ x: i, y: [lows[i], h] })),
            yAxisID: 'price',
            backgroundColor: highs.map((_, i) => barColor(i)),
            barThickness: 1.7,
            grouped: false,
            order: 4,
          },
          line('bb basis', toPoints(bbBasis), 'price', '#f5802d', 1.9, 5),
          line('bb upper', toPoints(bbUpper), 'price', '#3f67f0', 1.9, 5),
          line('bb lower', toPoints(bbLower), 'price', '#3f67f0', 1.9, 5),
          {
            type: 'bar' as const,
            label: 'volume',
            data: volumes.map((v, i) => ({ x: i + FIRST_BAR, y: v })),
            yAxisID: 'volume',
            backgroundColor: volumes.map((_, i) => volumeColor(i + FIRST_BAR)),
            barThickness: 1.6,
            grouped: false,
            order: 6,
          },
          line('macd', toPoints(macdLine), 'macd', '#3f67f0', 1.9, 2),
          line('signal', toPoints(macdSignal), 'macd', '#f5802d', 1.9, 2),
          {
            type: 'bar' as const,
            label: 'histogram',
            data: macdHist.map((v, i) => ({ x: i + FIRST_BAR, y: v })),
            yAxisID: 'macd',
            backgroundColor: macdHist.map((v, i) => histColor(v, i > 0 ? macdHist[i - 1] : 0)),
            barThickness: 1.5,
            grouped: false,
            order: 7,
          },
          line('zero', flatLine(0, X_MIN, X_MAX), 'macd', '#c3c6ce', 1.3, 8, { borderDash: [9, 11] }),
        ],
      },
      options: {
        responsive: false,
        animation: false,
        events: [],
        layout: { padding: { left: 5, top: 0, right: 0, bottom: 0 } },
        plugins: {
          legend: { display: false },
          tooltip: { enabled: false },
        },
        scales: {
          x: {
            type: 'linear',
            min: X_MIN,
            max: X_MAX,
            offset: false,
            afterBuildTicks: (scale: any) => {
              scale.ticks = monthBars.map((value) => ({ value }));
            },
            afterFit: (scale: any) => {
              scale.height = 45;
              noPadding(scale);
            },
            grid: { color: '#f0f1f4', lineWidth: 1.5, drawTicks: false, offset: false },
            border: { display: false },
            ticks: {
              autoSkip: false,
              maxRotation: 0,
              padding: 15,
              color: INK,
              font: (ctx: any) => ({
                family: FONT,
                size: 20,
                weight: monthLabels[ctx.index]?.startsWith('20') ? 700 : 400,
              }),
              callback: (value: any) => monthLabels[monthBars.indexOf(value)] ?? '',
            },
          },
          price: {
            type: 'logarithmic',
            position: 'right',
            stack: 'panes',
            stackWeight: 871,
            bounds: 'data',
            min: 38.14,
            max: 58.97,
            afterBuildTicks: (scale: any) => {
              scale.ticks = priceTicks.map((value) => ({ value }));
            },
            afterFit: (scale: any) => {
              scale.width = 89;
              noPadding(scale);
            },
            grid: { color: '#f0f1f4', lineWidth: 1.5, drawTicks: false },
            border: { display: false },
            ticks: {
              autoSkip: false,
              padding: 15,
              labelOffset: 2,
              color: INK,
              font: { family: FONT, size: 20.4 },
              // the top tick sits behind the currency box
              callback: (value: any) => (value > 57 ? '' : Number(value).toFixed(2)),
            },
          },
          macd: {
            type: 'linear',
            position: 'right',
            stack: 'panes',
            stackWeight: 199,
            bounds: 'data',
            min: -0.709,
            max: 0.688,
            afterBuildTicks: (scale: any) => {
              scale.ticks = macdTicks.map((value) => ({ value }));
            },
            afterFit: (scale: any) => {
              scale.width = 89;
              noPadding(scale);
            },
            grid: { color: '#f0f1f4', lineWidth: 1.5, drawTicks: false },
            border: { display: false },
            ticks: {
              autoSkip: false,
              padding: 15,
              labelOffset: 1,
              color: INK,
              font: { family: FONT, size: 20.4 },
              callback: (value: any) => (value < 0 ? `\u2212${Math.abs(value).toFixed(2)}` : Number(value).toFixed(2)),
            },
          },
          volume: {
            type: 'linear',
            position: 'right',
            display: false,
            bounds: 'data',
            min: -200,
            max: 870,
          },
        },
      },
      plugins: [overlayPlugin],
    } as any);

    return () => {
      chart.destroy();
    };
  }, []);

  return <canvas ref={canvasRef} width={1494} height={1115} style={{ display: 'block' }} />;
}
